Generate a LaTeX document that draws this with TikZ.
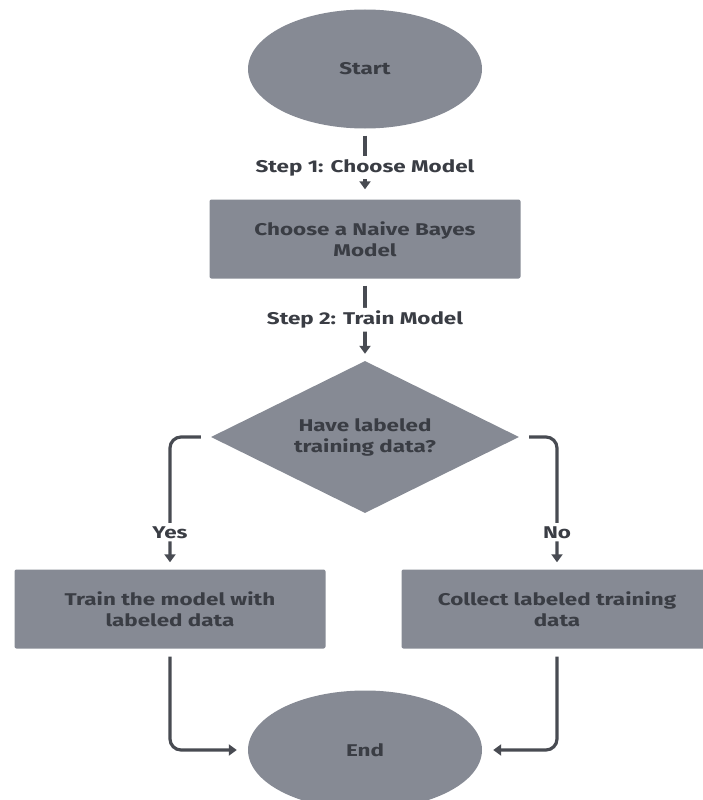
\documentclass[tikz,border=0pt]{standalone}
\usepackage{fontspec}
\setmainfont{Fira Sans}[FakeStretch=1.32]
\usetikzlibrary{shapes.geometric,arrows.meta}
\definecolor{shapefill}{RGB}{134,138,148}
\definecolor{textdark}{RGB}{58,61,68}
\definecolor{linkdark}{RGB}{72,75,82}
\tikzset{
  every node/.style={font=\fontsize{17}{21}\selectfont\bfseries, text=textdark},
  terminal/.style={ellipse, fill=shapefill, minimum width=234pt, minimum height=119pt, inner sep=0pt},
  process/.style={rectangle, fill=shapefill, rounded corners=2pt, minimum width=311pt, minimum height=79pt, align=center},
  decision/.style={diamond, fill=shapefill, minimum width=308pt, minimum height=152pt, aspect=2.04, inner sep=0pt, align=center},
  link/.style={draw=linkdark, line width=3.2pt, -{Triangle[width=11pt,length=8pt]}, rounded corners=11pt},
  steplabel/.style={fill=white, inner sep=3pt, text=textdark}
}
\begin{document}
\begin{tikzpicture}[x=1pt,y=-1pt]
  \useasboundingbox (0,0) rectangle (703,800);
  \begin{scope}
  \clip (0,0) rectangle (703,800);
  % shapes
  \node[terminal] (start) at (365,69) {Start};
  \node[process] (model) at (365,239) {Choose a Naive Bayes\\Model};
  \node[decision] (data) at (365,437) {Have labeled\\training data?};
  \node[process] (train) at (170,609) {Train the model with\\labeled data};
  \node[process] (collect) at (557,609) {Collect labeled training\\data};
  \node[terminal] (finish) at (365,750) {End};

  % vertical steps
  \draw[link, shorten <=7pt, shorten >=10pt] (start) -- (model)
    node[steplabel, pos=0.55] {Step 1: Choose Model};
  \draw[link, shorten <=7pt, shorten >=7pt] (model) -- (data)
    node[steplabel, pos=0.5] {Step 2: Train Model};

  % decision branches
  \draw[link, shorten <=10pt, shorten >=7pt] (data.west) -| (train.north)
    node[steplabel, pos=0.86] {Yes};
  \draw[link, shorten <=10pt, shorten >=7pt] (data.east) -| (collect.north)
    node[steplabel, pos=0.86] {No};

  % joining at the end
  \draw[link, shorten <=8pt, shorten >=11pt] (train.south) |- (finish.west);
  \draw[link, shorten <=8pt, shorten >=11pt] (collect.south) |- (finish.east);
  \end{scope}
\end{tikzpicture}
\end{document}
